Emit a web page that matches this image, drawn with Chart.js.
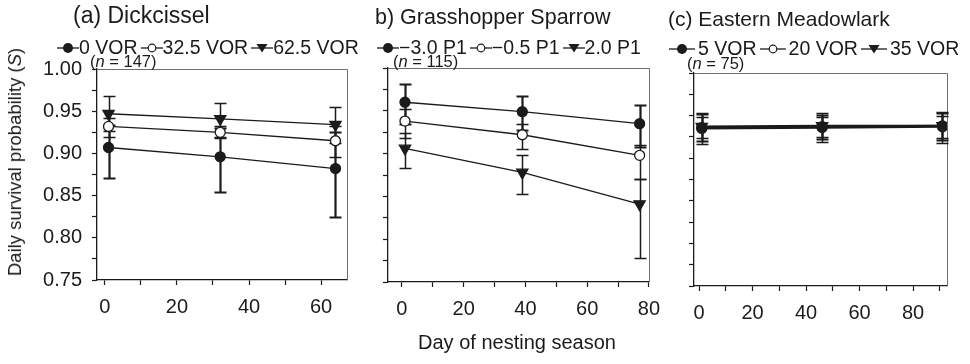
<!DOCTYPE html>
<html>
<head>
<meta charset="utf-8">
<script src="https://cdn.jsdelivr.net/npm/chart.js@4.4.1/dist/chart.umd.min.js"></script>
<style>
  body { margin: 0; background: #fff; }
  #wrap { position: relative; width: 970px; height: 364px; overflow: hidden; font-family: 'Liberation Sans', Arial, sans-serif; color: #1b1b1b; }
  canvas { position: absolute; top: 0; }
  .title { position: absolute; line-height: 22px; white-space: nowrap; }
  .legend { position: absolute; display: flex; align-items: center; font-size: 19.5px; line-height: 19px; height: 19px; white-space: nowrap; }
  .legend .item { display: flex; align-items: center; }
  .legend svg { display: block; }
  .ncount { position: absolute; font-size: 16.5px; line-height: 16.5px; white-space: nowrap; }
  .ytitle { position: absolute; left: 15px; top: 162px; font-size: 18.5px; white-space: nowrap; transform: translate(-50%, -50%) rotate(-90deg); }
  .xtitle { position: absolute; left: 517px; top: 342px; font-size: 20px; white-space: nowrap; transform: translate(-50%, -50%); }
</style>
</head>
<body>
<div id="wrap">
  <canvas id="chartA" width="362" height="330" style="left:0"></canvas>
  <canvas id="chartB" width="320" height="330" style="left:350px"></canvas>
  <canvas id="chartC" width="310" height="330" style="left:660px"></canvas>

  <div class="title" style="left:73px;top:4px;font-size:23px">(a) Dickcissel</div>
  <div class="title" style="left:375px;top:6px;font-size:21.5px">b) Grasshopper Sparrow</div>
  <div class="title" style="left:668px;top:8px;font-size:21px">(c) Eastern Meadowlark</div>

  <div class="legend" id="legendA" style="left:57px;top:38px"></div>
  <div class="legend" id="legendB" style="left:377px;top:38px"></div>
  <div class="legend" id="legendC" style="left:669px;top:39px"></div>

  <div class="ncount" style="left:90px;top:53px">(<i>n</i> = 147)</div>
  <div class="ncount" style="left:393px;top:53px">(<i>n</i> = 115)</div>
  <div class="ncount" style="left:687px;top:55px">(<i>n</i> = 75)</div>

  <div class="ytitle">Daily survival probability (<i>S</i>)</div>
  <div class="xtitle">Day of nesting season</div>
</div>

<script>
// ---- data ----
const yTicks = [0.75, 0.775, 0.8, 0.825, 0.85, 0.875, 0.9, 0.925, 0.95, 0.975, 1.0];
const yLabelTicks = [0.75, 0.8, 0.85, 0.9, 0.95, 1.0];
const xLabelTicks = [0, 20, 40, 60, 80];

// (a) Dickcissel
const dickDays = [1, 32, 64];
const dickXTicks = [0, 10, 20, 30, 40, 50, 60];
const dickLabels = ['0 VOR', '32.5 VOR', '62.5 VOR'];
const dickVor0 = [0.907, 0.896, 0.882];
const dickVor0Lo = [0.871, 0.854, 0.825];
const dickVor0Hi = [0.934, 0.930, 0.925];
const dickVor32 = [0.932, 0.925, 0.915];
const dickVor32Lo = [0.919, 0.918, 0.896];
const dickVor32Hi = [0.942, 0.932, 0.932];
const dickVor62 = [0.947, 0.941, 0.934];
const dickVor62Lo = [0.926, 0.920, 0.912];
const dickVor62Hi = [0.968, 0.960, 0.955];

// (b) Grasshopper Sparrow
const sparDays = [1, 39, 77];
const sparXTicks = [0, 10, 20, 30, 40, 50, 60, 70, 80];
const sparLabels = ['\u22123.0 P1', '\u22120.5 P1', '2.0 P1'];
const sparP1m3 = [0.960, 0.949, 0.935];
const sparP1m3Lo = [0.935, 0.928, 0.908];
const sparP1m3Hi = [0.981, 0.967, 0.957];
const sparP1m05 = [0.938, 0.922, 0.898];
const sparP1m05Lo = [0.918, 0.905, 0.870];
const sparP1m05Hi = [0.952, 0.934, 0.910];
const sparP1p2 = [0.906, 0.878, 0.841];
const sparP1p2Lo = [0.883, 0.853, 0.778];
const sparP1p2Hi = [0.924, 0.898, 0.870];

// (c) Eastern Meadowlark
const meadDays = [1, 46, 91];
const meadXTicks = [0, 10, 20, 30, 40, 50, 60, 70, 80, 90];
const meadLabels = ['5 VOR', '20 VOR', '35 VOR'];
const meadVor5 = [0.936, 0.937, 0.938];
const meadVor5Lo = [0.920, 0.922, 0.921];
const meadVor5Hi = [0.952, 0.951, 0.953];
const meadVor20 = [0.935, 0.936, 0.937];
const meadVor20Lo = [0.917, 0.919, 0.918];
const meadVor20Hi = [0.953, 0.953, 0.954];
const meadVor35 = [0.937, 0.938, 0.938];
const meadVor35Lo = [0.924, 0.925, 0.924];
const meadVor35Hi = [0.948, 0.948, 0.950];

const markers = ['filled', 'open', 'tri'];
const INK = '#1b1b1b';

Chart.defaults.font.family = "'Liberation Sans', Arial, sans-serif";
Chart.defaults.color = INK;
Chart.defaults.animation = false;

// error bars drawn under the points, from the dataset's own low/high arrays
const errorBars = {
  id: 'errorBars',
  beforeDatasetsDraw(chart) {
    const { ctx } = chart;
    const xs = chart.scales.x, ys = chart.scales.y;
    ctx.save();
    ctx.strokeStyle = INK;
    chart.data.datasets.forEach(ds => {
      ctx.lineWidth = ds.errWidth;
      ds.data.forEach((p, i) => {
        const px = Math.round(xs.getPixelForValue(p.x)) + 0.5;
        const top = Math.round(ys.getPixelForValue(ds.errHi[i])) + 0.5;
        const bot = Math.round(ys.getPixelForValue(ds.errLo[i])) + 0.5;
        const c = ds.capHalf;
        ctx.beginPath();
        ctx.moveTo(px, top); ctx.lineTo(px, bot);
        ctx.moveTo(px - c, top); ctx.lineTo(px + c, top);
        ctx.moveTo(px - c, bot); ctx.lineTo(px + c, bot);
        ctx.stroke();
      });
    });
    ctx.restore();
  }
};

// thin box on top and right of the plot area
const frame = {
  id: 'frame',
  beforeDatasetsDraw(chart) {
    const { ctx, chartArea: a } = chart;
    ctx.save();
    ctx.strokeStyle = '#6e6e6e';
    ctx.lineWidth = 1;
    ctx.beginPath();
    ctx.moveTo(a.left, Math.round(a.top) + 0.5);
    ctx.lineTo(Math.round(a.right) + 0.5, Math.round(a.top) + 0.5);
    ctx.lineTo(Math.round(a.right) + 0.5, a.bottom);
    ctx.stroke();
    ctx.restore();
  }
};

function series(label, days, vals, lo, hi, marker, lineWidth) {
  return {
    label,
    data: days.map((d, i) => ({ x: d, y: vals[i] })),
    errLo: lo,
    errHi: hi,
    errWidth: marker === 'filled' ? 2.2 : 1.5,
    capHalf: 6,
    borderColor: INK,
    borderWidth: lineWidth,
    showLine: true,
    pointStyle: marker === 'tri' ? 'triangle' : 'circle',
    pointRotation: marker === 'tri' ? 180 : 0,
    pointRadius: marker === 'tri' ? 6.5 : 5,
    pointBackgroundColor: marker === 'open' ? '#ffffff' : INK,
    pointBorderColor: INK,
    pointBorderWidth: 1.3,
  };
}

function makeChart(id, datasets, o) {
  return new Chart(document.getElementById(id), {
    type: 'scatter',
    data: { datasets },
    options: {
      responsive: false,
      maintainAspectRatio: false,
      layout: { padding: { left: 0, top: o.top, right: o.right, bottom: 0 } },
      plugins: { legend: { display: false }, tooltip: { enabled: false } },
      scales: {
        x: {
          type: 'linear', min: o.xMin, max: o.xMax, bounds: 'data',
          afterBuildTicks: s => { s.ticks = o.xTicks.map(v => ({ value: v })); },
          afterFit: s => { s.height = o.xHeight; },
          ticks: {
            autoSkip: false, maxRotation: 0, padding: 10, color: INK,
            font: { size: 20 },
            callback: v => xLabelTicks.includes(v) ? String(v) : ''
          },
          grid: { drawOnChartArea: false, drawTicks: true, tickLength: 5, color: INK, tickWidth: 1.2 },
          border: { color: INK, width: 1.3 }
        },
        y: {
          type: 'linear', min: 0.75, max: 1.0, bounds: 'data',
          afterBuildTicks: s => { s.ticks = yTicks.map(v => ({ value: v })); },
          afterFit: s => { s.width = o.yWidth; },
          ticks: {
            display: o.yLabels, autoSkip: false, padding: 10, color: INK,
            font: { size: 20 },
            callback: v => yLabelTicks.includes(v) ? v.toFixed(2) : ''
          },
          grid: { drawOnChartArea: false, drawTicks: true, tickLength: 5, color: INK, tickWidth: 1.2 },
          border: { color: INK, width: 1.3 }
        }
      }
    },
    plugins: [frame, errorBars]
  });
}

makeChart('chartA', [
  series(dickLabels[0], dickDays, dickVor0, dickVor0Lo, dickVor0Hi, markers[0], 1.3),
  series(dickLabels[1], dickDays, dickVor32, dickVor32Lo, dickVor32Hi, markers[1], 1.3),
  series(dickLabels[2], dickDays, dickVor62, dickVor62Lo, dickVor62Hi, markers[2], 1.3),
], { top: 69, right: 15, yWidth: 97, xHeight: 50, xMin: -2.2, xMax: 67.2, xTicks: dickXTicks, yLabels: true });

makeChart('chartB', [
  series(sparLabels[0], sparDays, sparP1m3, sparP1m3Lo, sparP1m3Hi, markers[0], 1.3),
  series(sparLabels[1], sparDays, sparP1m05, sparP1m05Lo, sparP1m05Hi, markers[1], 1.3),
  series(sparLabels[2], sparDays, sparP1p2, sparP1p2Lo, sparP1p2Hi, markers[2], 1.3),
], { top: 68, right: 17, yWidth: 38, xHeight: 48, xMin: -4.5, xMax: 80, xTicks: sparXTicks, yLabels: false });

makeChart('chartC', [
  series(meadLabels[0], meadDays, meadVor5, meadVor5Lo, meadVor5Hi, markers[0], 2.2),
  series(meadLabels[1], meadDays, meadVor20, meadVor20Lo, meadVor20Hi, markers[1], 2.2),
  series(meadLabels[2], meadDays, meadVor35, meadVor35Lo, meadVor35Hi, markers[2], 2.2),
], { top: 73, right: 23, yWidth: 34, xHeight: 44, xMin: -1.9, xMax: 92.7, xTicks: meadXTicks, yLabels: false });

// html legends: line with marker, then the label
function markerSvg(kind, w) {
  const cx = w / 2;
  const line = `<line x1="0" y1="8" x2="${w}" y2="8" stroke="${INK}" stroke-width="1.3"/>`;
  let m;
  if (kind === 'filled') m = `<circle cx="${cx}" cy="8" r="5" fill="${INK}"/>`;
  else if (kind === 'open') m = `<circle cx="${cx}" cy="8" r="3.8" fill="#fff" stroke="${INK}" stroke-width="1.2"/>`;
  else m = `<polygon points="${cx - 5.5},4 ${cx + 5.5},4 ${cx},12.5" fill="${INK}"/>`;
  return `<svg width="${w}" height="16" viewBox="0 0 ${w} 16">${line}${m}</svg>`;
}

function buildLegend(id, labels, symW, gap) {
  document.getElementById(id).innerHTML = labels.map((l, i) =>
    `<span class="item" style="margin-right:3px">${markerSvg(markers[i], symW)}<span style="margin-left:${gap}px">${l}</span></span>`
  ).join('');
}

buildLegend('legendA', dickLabels, 22, 0);
buildLegend('legendB', sparLabels, 22, 0);
buildLegend('legendC', meadLabels, 26, 3);
</script>
</body>
</html>
